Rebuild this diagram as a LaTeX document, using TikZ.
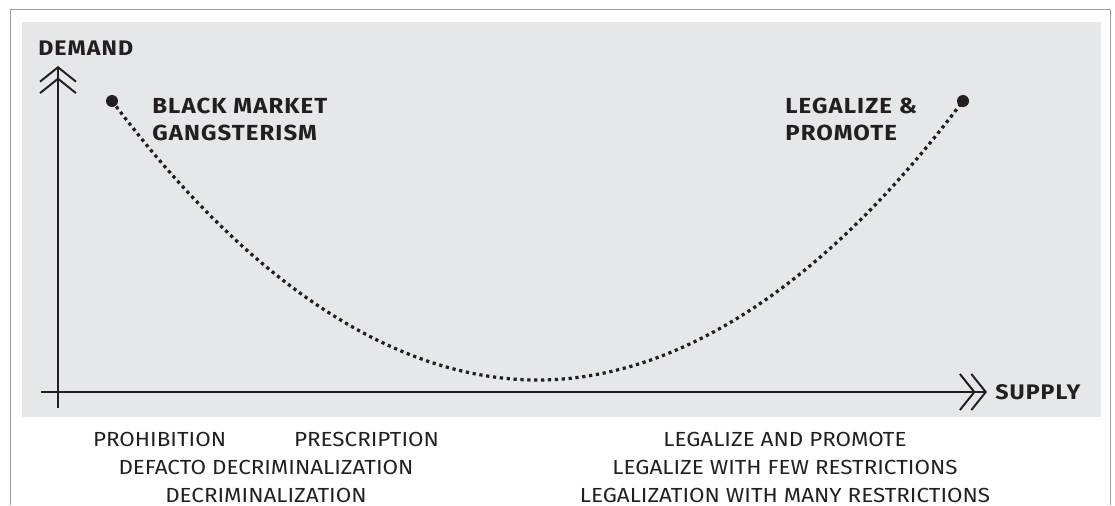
\documentclass[tikz,border=0pt]{standalone}
\usepackage{fontspec}
\setmainfont{Fira Sans}[FakeStretch=1.1, BoldFeatures={LetterSpace=5}]
\usetikzlibrary{arrows.meta, positioning}

\definecolor{panelgray}{HTML}{E6E7E8}
\definecolor{framegray}{HTML}{A0A0A0}
\definecolor{inkdark}{HTML}{231F20}

\begin{document}
\begin{tikzpicture}[x=0.25mm,y=-0.25mm,
    axis/.style={draw=inkdark,line width=1.4pt,
        -{Straight Barb[length=3.6mm,width=9mm,sep=-1.3mm]Straight Barb[length=3.6mm,width=9mm]}},
    axislabel/.style={inner sep=0,text=inkdark,font=\fontsize{15}{18}\selectfont\bfseries},
    curvelabel/.style={inner sep=0,text=inkdark,align=left,font=\fontsize{15.5}{19.2}\selectfont\bfseries},
    policy/.style={inner sep=0,text=inkdark,align=center,font=\fontsize{14.5}{19.9}\selectfont},
    enddot/.style={circle,fill=inkdark,inner sep=0,minimum size=3mm}]
    \useasboundingbox (0,0) rectangle (1115,505);

    % Rahmen und Feld
    \draw[framegray,line width=0.6pt] (10,505) -- (10,9) -- (1110,9) -- (1110,505);
    \fill[panelgray] (22,22) rectangle (1101,417);

    % Achsen
    \coordinate (ybot) at (58,408);
    \coordinate (ytop) at (58,66);
    \coordinate (xleft) at (41,392);
    \coordinate (xright) at (987,392);
    \draw[axis] (ybot) -- (ytop);
    \draw[axis] (xleft) -- (xright);
    \node[axislabel,anchor=base west] (demand) at (38,55) {DEMAND};
    \node[axislabel,anchor=base west] (supply) at (995,399) {SUPPLY};

    % Kurve
    \node[enddot] (black) at (112,101) {};
    \node[enddot] (legal) at (963,101) {};
    \coordinate (low) at (537.5,380);
    \draw[inkdark,line width=2.3pt,dash pattern=on 2.3pt off 2.6pt]
        (black.center) parabola bend (low) (legal.center);
    \node[curvelabel,anchor=north west] (blacktext) at (152,98) {BLACK MARKET\\GANGSTERISM};
    \node[curvelabel,anchor=north west] (legaltext) at (785,98) {LEGALIZE \&\\PROMOTE};

    % Politik
    \node[policy,anchor=north] (leftpolicy) at (266,432)
        {PROHIBITION\hspace{17mm}PRESCRIPTION\\DEFACTO DECRIMINALIZATION\\DECRIMINALIZATION};
    \node[policy,anchor=north] (rightpolicy) at (785,432)
        {LEGALIZE AND PROMOTE\\LEGALIZE WITH FEW RESTRICTIONS\\LEGALIZATION WITH MANY RESTRICTIONS};
\end{tikzpicture}
\end{document}
